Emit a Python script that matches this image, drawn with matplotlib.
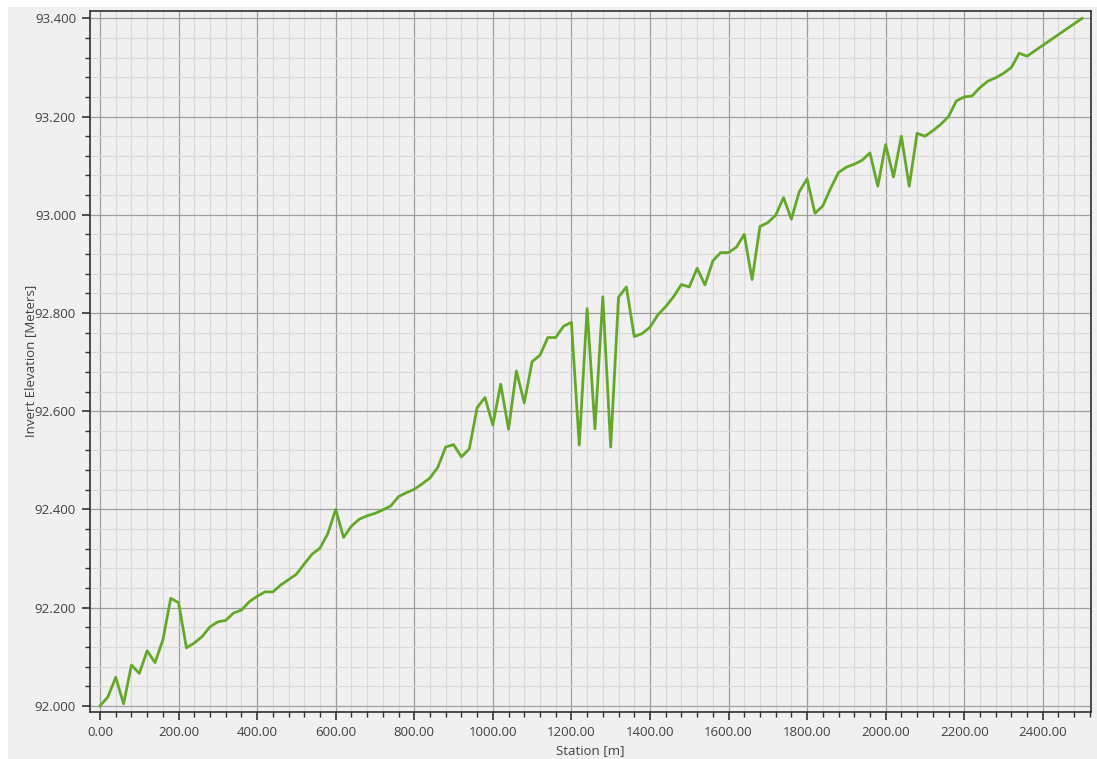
import matplotlib.pyplot as plt
from matplotlib.patches import Rectangle
from matplotlib.ticker import MultipleLocator, FormatStrFormatter

plt.rcParams['font.family'] = ['Open Sans', 'DejaVu Sans']

# perfil de invert (estacion cada 20 m)
station = [0, 20, 40, 60, 80, 100, 120, 140, 160, 180,
           200, 220, 240, 260, 280, 300, 320, 340, 360, 380,
           400, 420, 440, 460, 480, 500, 520, 540, 560, 580,
           600, 620, 640, 660, 680, 700, 720, 740, 760, 780,
           800, 820, 840, 860, 880, 900, 920, 940, 960, 980,
           1000, 1020, 1040, 1060, 1080, 1100, 1120, 1140, 1160, 1180,
           1200, 1220, 1240, 1260, 1280, 1300, 1320, 1340, 1360, 1380,
           1400, 1420, 1440, 1460, 1480, 1500, 1520, 1540, 1560, 1580,
           1600, 1620, 1640, 1660, 1680, 1700, 1720, 1740, 1760, 1780,
           1800, 1820, 1840, 1860, 1880, 1900, 1920, 1940, 1960, 1980,
           2000, 2020, 2040, 2060, 2080, 2100, 2120, 2140, 2160, 2180,
           2200, 2220, 2240, 2260, 2280, 2300, 2320, 2340, 2360, 2500]
invert = [92.000, 92.018, 92.058, 92.004, 92.083, 92.066, 92.112, 92.088, 92.134, 92.219,
          92.210, 92.118, 92.128, 92.141, 92.161, 92.171, 92.174, 92.189, 92.195, 92.212,
          92.223, 92.232, 92.232, 92.246, 92.257, 92.268, 92.289, 92.309, 92.321, 92.351,
          92.400, 92.343, 92.366, 92.380, 92.387, 92.392, 92.399, 92.407, 92.426, 92.434,
          92.441, 92.452, 92.464, 92.486, 92.527, 92.532, 92.507, 92.523, 92.607, 92.628,
          92.572, 92.655, 92.563, 92.682, 92.617, 92.701, 92.714, 92.750, 92.750, 92.773,
          92.781, 92.531, 92.809, 92.564, 92.833, 92.527, 92.832, 92.853, 92.752, 92.758,
          92.771, 92.796, 92.813, 92.833, 92.858, 92.853, 92.891, 92.857, 92.906, 92.923,
          92.923, 92.934, 92.960, 92.868, 92.976, 92.984, 92.999, 93.035, 92.991, 93.047,
          93.073, 93.003, 93.018, 93.054, 93.086, 93.097, 93.103, 93.111, 93.126, 93.058,
          93.143, 93.077, 93.160, 93.058, 93.166, 93.160, 93.171, 93.184, 93.200, 93.232,
          93.240, 93.242, 93.259, 93.272, 93.279, 93.288, 93.300, 93.329, 93.323, 93.400]

W, H = 1097, 759
fig = plt.figure(figsize=(W / 100, H / 100), dpi=100, facecolor='white')
# panel gris detras del grafico
fig.patches.append(Rectangle((8 / W, 0), 1, 1 - 7 / H, transform=fig.transFigure,
                             facecolor='#f0f0f0', edgecolor='none', zorder=-10))

ax = fig.add_axes([90 / W, 47.3 / H, 1000.7 / W, 700.7 / H])
ax.set_facecolor('#f0f0f0')

ax.plot(station, invert, color='#64a82a', linewidth=2.0, zorder=3)

ax.set_xlim(-25.5, 2522)
ax.set_ylim(91.988, 93.415)
ax.xaxis.set_major_locator(MultipleLocator(200))
ax.xaxis.set_minor_locator(MultipleLocator(40))
ax.yaxis.set_major_locator(MultipleLocator(0.2))
ax.yaxis.set_minor_locator(MultipleLocator(0.04))
ax.xaxis.set_major_formatter(FormatStrFormatter('%.2f'))
ax.yaxis.set_major_formatter(FormatStrFormatter('%.3f'))

ax.grid(which='major', color='#9e9e9e', linewidth=0.9)
ax.grid(which='minor', color='#d9d9d9', linewidth=0.8)
ax.set_axisbelow(True)

ax.tick_params(which='major', direction='out', length=6, width=1.2,
               color='#303030', labelsize=9.5, labelcolor='#404040', pad=4)
ax.tick_params(which='minor', direction='out', length=3.5, width=1.0, color='#303030')
for s in ax.spines.values():
    s.set_color('#303030')
    s.set_linewidth(1.2)

ax.set_xlabel('Station [m]', fontsize=9.5, color='#404040', labelpad=4)
ax.set_ylabel('Invert Elevation [Meters]', fontsize=9.5, color='#404040', labelpad=-2)

fig.savefig('out.png', dpi=100, facecolor=fig.get_facecolor())
